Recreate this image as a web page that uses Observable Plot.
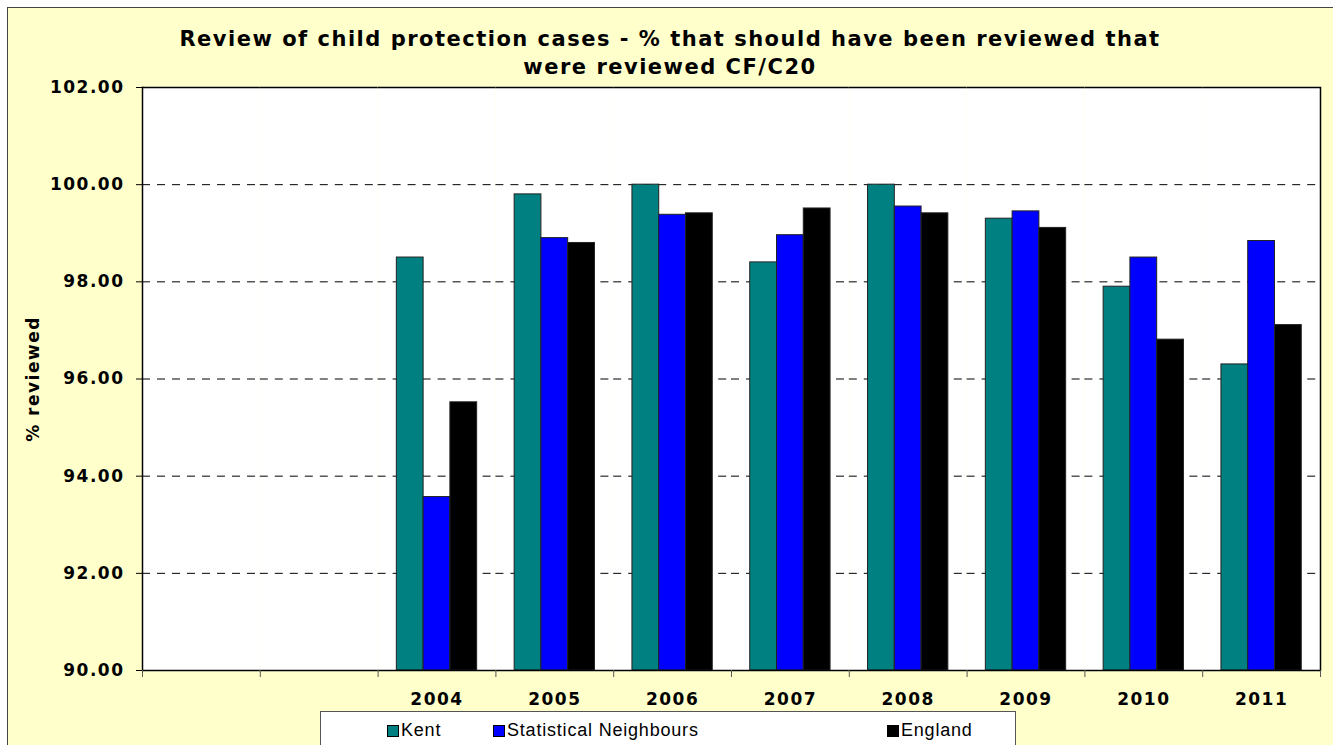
<!DOCTYPE html>
<html>
<head>
<meta charset="utf-8">
<script src="https://cdn.jsdelivr.net/npm/d3@7"></script>
<script src="https://cdn.jsdelivr.net/npm/@observablehq/plot@0.6"></script>
<style>
  body { margin: 0; background: #ffffff; }
  #wrap { position: relative; width: 1333px; height: 745px; overflow: hidden; }
  #bg { position: absolute; left: 7px; top: 7px; width: 1360px; height: 780px; background: #FFFFCC; border: 1px solid #444; }
  #title { position: absolute; left: 0; top: 25px; width: 1340px; text-align: center; font: bold 21px "DejaVu Sans", Verdana, sans-serif; letter-spacing: 1.5px; line-height: 28px; color: #000; }
  #chart { position: absolute; left: 0; top: 0; }
  #chart svg text { letter-spacing: 1.5px; }
  #legend { position: absolute; left: 320px; top: 711px; width: 694px; height: 40px; background: #fff; border: 1px solid #555; font: 18px "Liberation Sans", Arial, sans-serif; letter-spacing: 0.8px; }
  .item { position: absolute; top: 8px; display: flex; align-items: center; }
  .sw { width: 10px; height: 10px; border: 1px solid #000; margin-right: 2px; }
</style>
</head>
<body>
<div id="wrap">
  <div id="bg"></div>
  <div id="title">Review of child protection cases - % that should have been reviewed that<br>were reviewed CF/C20</div>
  <div id="chart"></div>
  <div id="legend"></div>
</div>
<script>
// ---- data ----
const categories = ["blank-1", "blank-2", "2004", "2005", "2006", "2007", "2008", "2009", "2010", "2011"];
const years = ["2004", "2005", "2006", "2007", "2008", "2009", "2010", "2011"];
const series = ["Kent", "Statistical Neighbours", "England"];
const kent = [98.50, 99.80, 100.00, 98.40, 100.00, 99.30, 97.90, 96.30];
const statNeighbours = [93.57, 98.90, 99.38, 98.96, 99.55, 99.45, 98.50, 98.84];
const england = [95.52, 98.80, 99.41, 99.51, 99.41, 99.11, 96.81, 97.11];
const colors = ["#008080", "#0000FF", "#000000"];
const yDomain = [90, 102];
const yTicks = [90, 92, 94, 96, 98, 100, 102];
const yLabel = "% reviewed";

const seriesValues = [kent, statNeighbours, england];
const data = [];
years.forEach((yr, i) => {
  series.forEach((s, j) => data.push({year: yr, series: s, value: seriesValues[j][i]}));
});
const colorOf = Object.fromEntries(series.map((s, i) => [s, colors[i]]));

const font = "DejaVu Sans, Verdana, sans-serif";

const chart = Plot.plot({
  width: 1333,
  height: 745,
  marginTop: 87,
  marginBottom: 75,
  marginLeft: 142,
  marginRight: 13,
  style: {background: "transparent", fontFamily: font, color: "#000", overflow: "visible"},
  fx: {domain: categories, padding: 0, round: false, axis: null, label: null},
  x: {domain: series, paddingInner: 0, paddingOuter: 0.7, round: false, axis: null},
  y: {domain: yDomain, axis: null},
  marks: [
    // white plot area, one cell per category (also keeps the empty categories as real facets)
    Plot.barY(categories, {fx: d => d, y1: yDomain[0], y2: yDomain[1], fill: "#fff", stroke: "none"}),
    Plot.gridY(yTicks.slice(1, -1), {stroke: "#000", strokeOpacity: 1, strokeWidth: 1, strokeDasharray: "8,7"}),
    Plot.barY(data, {
      fx: "year", x: "series", y1: yDomain[0], y2: "value",
      fill: d => colorOf[d.series], stroke: "#222", strokeWidth: 1
    }),
    Plot.ruleY(categories, {fx: d => d, y: yDomain[1], stroke: "#000", strokeWidth: 1.5}),
    Plot.ruleY(categories, {fx: d => d, y: yDomain[0], stroke: "#000", strokeWidth: 1.5}),
    Plot.frame({anchor: "left", stroke: "#000", strokeWidth: 1.5, facetAnchor: "left"}),
    Plot.frame({anchor: "right", stroke: "#000", strokeWidth: 1.5, facetAnchor: "right"}),
    Plot.frame({anchor: "left", stroke: "#555", strokeWidth: 1, insetTop: 583, insetBottom: -6}),
    Plot.frame({anchor: "right", stroke: "#555", strokeWidth: 1, insetTop: 583, insetBottom: -6, facetAnchor: "right"}),
    Plot.axisY({
      ticks: yTicks, tickFormat: d3.format(".2f"), tickSize: 6, tickPadding: 12,
      fontSize: 17, fontWeight: "bold", label: null, facetAnchor: "left"
    }),
    Plot.text([yLabel], {
      text: d => d, frameAnchor: "left", textAnchor: "middle", rotate: -90, dx: -109,
      fontSize: 17, fontWeight: "bold", facetAnchor: "left"
    }),
    Plot.axisFx({
      anchor: "bottom", tickSize: 0, tickPadding: 22, label: null,
      tickFormat: d => years.includes(d) ? d : "", fontSize: 17, fontWeight: "bold"
    })
  ]
});
document.getElementById("chart").appendChild(chart);

// legend
const legendPos = [66, 172, 566];
const legend = document.getElementById("legend");
series.forEach((s, i) => {
  const item = document.createElement("div");
  item.className = "item";
  item.style.left = legendPos[i] + "px";
  item.innerHTML = `<div class="sw" style="background:${colors[i]}"></div><span>${s}</span>`;
  legend.appendChild(item);
});
</script>
</body>
</html>
